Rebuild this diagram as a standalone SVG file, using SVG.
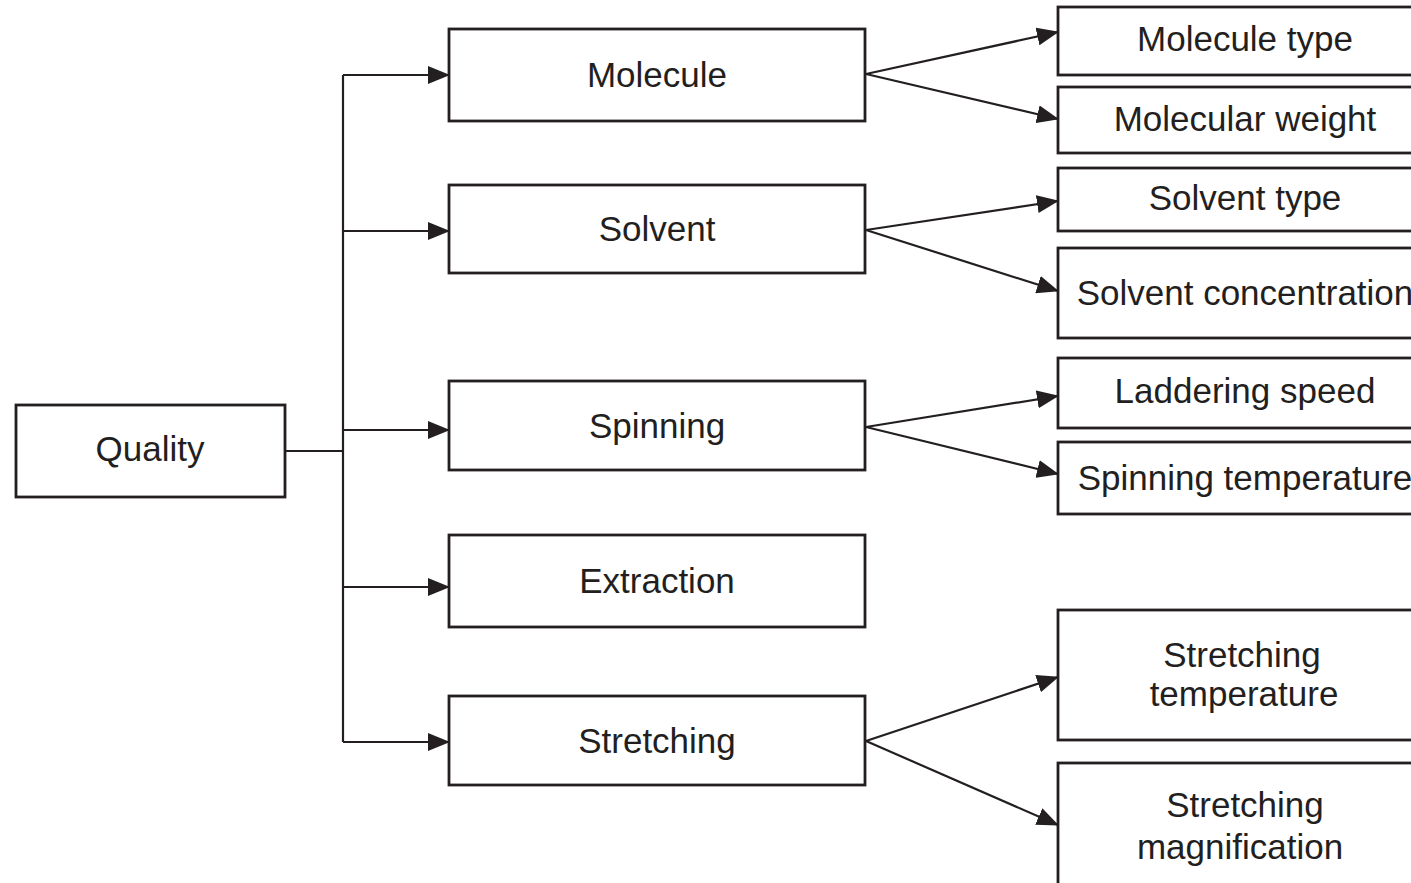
<svg xmlns="http://www.w3.org/2000/svg" width="1411" height="883" viewBox="0 0 1411 883">
<style>
.box{fill:#fff;stroke:#231f20;stroke-width:2.8}
.t{font-family:"Liberation Sans",Arial,sans-serif;font-size:35px;fill:#231f20;text-anchor:middle}
.c{fill:none;stroke:#231f20;stroke-width:2.2}
</style>
<defs>
<marker id="ah" viewBox="0 0 22 18" refX="21" refY="9" markerWidth="22" markerHeight="18" markerUnits="userSpaceOnUse" orient="auto">
<path d="M0,0 L22,9 L0,18 Z" fill="#231f20"/>
</marker>
</defs>
<g id="connectors">
<path class="c" d="M285,451 H343"/>
<path class="c" d="M343,75 V742"/>
<path class="c" d="M343,75 H449" marker-end="url(#ah)"/>
<path class="c" d="M343,231 H449" marker-end="url(#ah)"/>
<path class="c" d="M343,430 H449" marker-end="url(#ah)"/>
<path class="c" d="M343,587 H449" marker-end="url(#ah)"/>
<path class="c" d="M343,742 H449" marker-end="url(#ah)"/>
<path class="c" d="M866,74 L1058,32" marker-end="url(#ah)"/>
<path class="c" d="M866,74 L1058,119" marker-end="url(#ah)"/>
<path class="c" d="M866,230 L1058,201" marker-end="url(#ah)"/>
<path class="c" d="M866,230 L1058,291" marker-end="url(#ah)"/>
<path class="c" d="M866,427 L1058,396" marker-end="url(#ah)"/>
<path class="c" d="M866,427 L1058,474" marker-end="url(#ah)"/>
<path class="c" d="M866,741 L1058,677" marker-end="url(#ah)"/>
<path class="c" d="M866,741 L1058,825" marker-end="url(#ah)"/>
</g>
<g id="quality"><rect class="box" x="16" y="405" width="269" height="92"/><text class="t" x="150" y="461">Quality</text></g>
<g id="molecule"><rect class="box" x="449" y="29" width="416" height="92"/><text class="t" x="657" y="87">Molecule</text></g>
<g id="solvent"><rect class="box" x="449" y="185" width="416" height="88"/><text class="t" x="657" y="241">Solvent</text></g>
<g id="spinning"><rect class="box" x="449" y="381" width="416" height="89"/><text class="t" x="657" y="438">Spinning</text></g>
<g id="extraction"><rect class="box" x="449" y="535" width="416" height="92"/><text class="t" x="657" y="593">Extraction</text></g>
<g id="stretching"><rect class="box" x="449" y="696" width="416" height="89"/><text class="t" x="657" y="753">Stretching</text></g>
<g id="molecule-type"><rect class="box" x="1058" y="7" width="380" height="68"/><text class="t" x="1245" y="51">Molecule type</text></g>
<g id="molecular-weight"><rect class="box" x="1058" y="87" width="380" height="66"/><text class="t" x="1245" y="131">Molecular weight</text></g>
<g id="solvent-type"><rect class="box" x="1058" y="168" width="380" height="63"/><text class="t" x="1245" y="210">Solvent type</text></g>
<g id="solvent-concentration"><rect class="box" x="1058" y="248" width="380" height="90"/><text class="t" x="1245" y="305">Solvent concentration</text></g>
<g id="laddering-speed"><rect class="box" x="1058" y="358" width="380" height="70"/><text class="t" x="1245" y="403">Laddering speed</text></g>
<g id="spinning-temperature"><rect class="box" x="1058" y="442" width="380" height="72"/><text class="t" x="1245" y="490">Spinning temperature</text></g>
<g id="stretching-temperature"><rect class="box" x="1058" y="610" width="380" height="130"/><text class="t" x="1242" y="667">Stretching</text><text class="t" x="1244" y="706">temperature</text></g>
<g id="stretching-magnification"><rect class="box" x="1058" y="763" width="380" height="140"/><text class="t" x="1245" y="817">Stretching</text><text class="t" x="1240" y="859">magnification</text></g>
</svg>
